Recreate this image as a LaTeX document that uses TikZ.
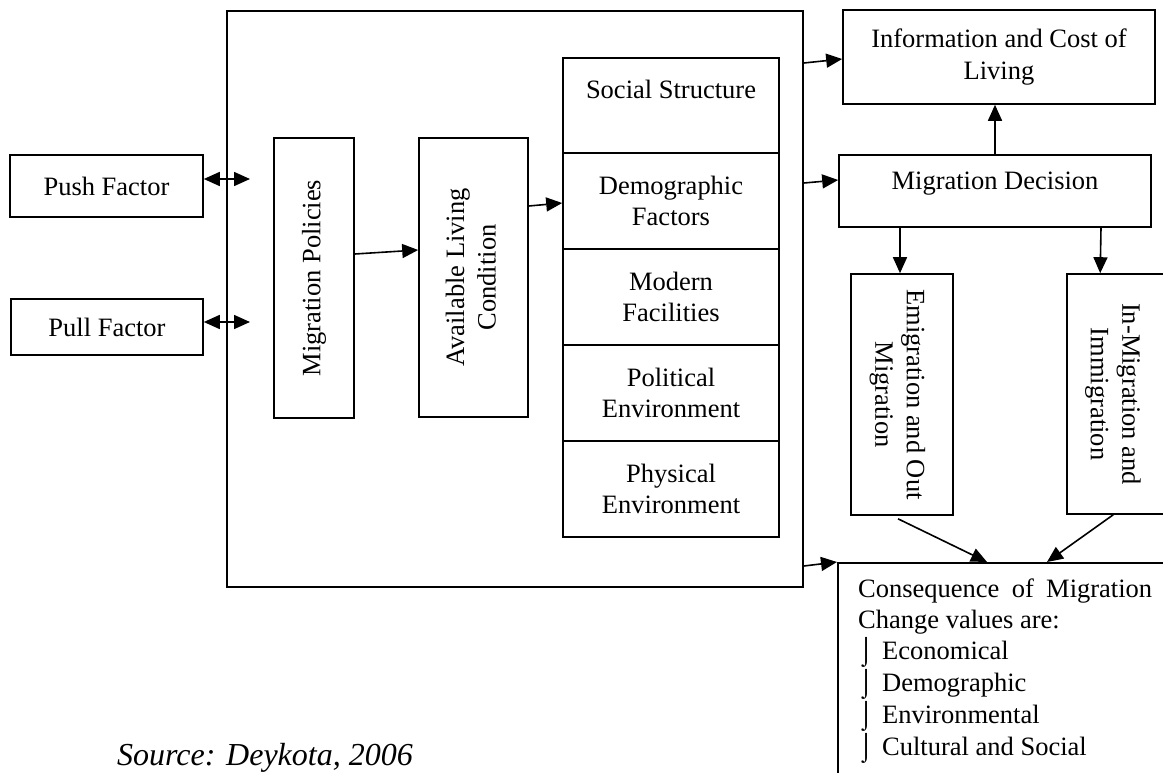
\documentclass[tikz,border=0pt]{standalone}
\usepackage{fontspec}
\usepackage{graphicx}
\setmainfont{Liberation Serif}
\usetikzlibrary{arrows.meta,calc}
\begin{document}
\begin{tikzpicture}[x=1pt,y=-1pt,
  box/.style={draw, line width=1.6pt, rectangle, inner sep=0pt, align=center, font=\fontsize{26.5}{31.5}\selectfont},
  arr/.style={line width=1.6pt, -{Triangle[length=16pt,width=14pt]}},
  darr/.style={line width=1.6pt, {Triangle[length=16pt,width=14pt]}-{Triangle[length=16pt,width=14pt]}},
  txt/.style={inner sep=0pt, anchor=base west, font=\fontsize{26.5}{31.5}\selectfont}]
\useasboundingbox (0,0) rectangle (1163,773);
\clip (0,0) rectangle (1163,773);

% left factors
\node[box, minimum width=193pt, minimum height=62pt] (push) at (106.5,186) {Push Factor};
\node[box, minimum width=192pt, minimum height=56pt] (pull) at (107,327) {Pull Factor};

% big frame
\node[box, minimum width=576pt, minimum height=576pt] (big) at (515,299) {};

\node[box, minimum width=80pt, minimum height=280pt] (pol) at (314,278) {\mbox{\rotatebox{90}{Migration Policies}}};
\node[box, minimum width=109pt, minimum height=279pt] (avail) at (473.5,277.5) {\mbox{\rotatebox{90}{\begin{tabular}{@{}c@{}}Available Living\\Condition\end{tabular}}}};

% column of factors
\node[box, minimum width=216pt, minimum height=95pt] (soc) at (671,105.5) {Social Structure\\ \mbox{}};
\node[box, minimum width=216pt, minimum height=96pt] (dem) at (671,201) {Demographic\\Factors};
\node[box, minimum width=216pt, minimum height=96pt] (mod) at (671,297) {Modern\\Facilities};
\node[box, minimum width=216pt, minimum height=96pt] (polenv) at (671,393) {Political\\Environment};
\node[box, minimum width=216pt, minimum height=96pt] (phys) at (671,489) {Physical\\Environment};

% right side
\node[box, minimum width=312pt, minimum height=94pt] (info) at (999,57) {Information and Cost of\\Living};
\node[box, minimum width=312pt, minimum height=72pt, text depth=20pt] (dec) at (995,191) {Migration Decision};
\node[box, minimum width=102pt, minimum height=241pt] (emi) at (902,394.5) {\mbox{\rotatebox{-90}{\begin{tabular}{@{}c@{}}Emigration and Out\\Migration\end{tabular}}\hspace{9pt}}};
\node[box, minimum width=103pt, minimum height=240pt] (inm) at (1118.5,394) {\mbox{\rotatebox{-90}{\begin{tabular}{@{}c@{}}In-Migration and\\Immigration\end{tabular}}\hspace{11pt}}};

% consequence box
\node[draw, line width=1.6pt, minimum width=400pt, minimum height=300pt, anchor=north west, inner sep=0pt] (cons) at (837,562) {};
\node[txt] (c1) at (858,597) {\makebox[294pt][s]{Consequence of Migration}};
\node[txt] (c2) at (858,628) {Change values are:};
\node[txt] (c3) at (858,659) {\makebox[24pt][l]{⌡}Economical};
\node[txt] (c4) at (858,691) {\makebox[24pt][l]{⌡}Demographic};
\node[txt] (c5) at (858,723) {\makebox[24pt][l]{⌡}Environmental};
\node[txt] (c6) at (858,755) {\makebox[24pt][l]{⌡}Cultural and Social};

% source
\node[inner sep=0pt, anchor=base west, font=\fontsize{32}{38}\selectfont\itshape] (src) at (117,765) {Source: Deykota, 2006};

% connectors
\coordinate (pushend) at (250,179);
\coordinate (pullend) at (250,322);
\draw[darr] ($(push.east)+(0,-7)$) -- (pushend);
\draw[darr] ($(pull.east)+(0,-5)$) -- (pullend);
\draw[arr] ($(pol.east)+(0,-24)$) -- ($(avail.west)+(0,-27.5)$);
\draw[arr] ($(avail.east)+(0,-71.5)$) -- ($(dem.west)+(0,2)$);
\draw[arr] ($(big.east)+(0,-236)$) -- ($(info.west)+(0,2)$);
\draw[arr] ($(big.east)+(0,-116)$) -- ($(dec.west)+(0,-11)$);
\draw[arr] (dec.north) -- ($(info.south)+(-4,0)$);
\draw[arr] ($(dec.south)+(-95,0)$) -- ($(emi.north)+(-2,0)$);
\draw[arr] ($(dec.south)+(106,0)$) -- ($(inm.north west)+(34,0)$);
\draw[arr] ($(emi.south)+(-4,3)$) -- ($(cons.north west)+(150,0)$);
\draw[arr] ($(inm.south west)+(47,0)$) -- ($(cons.north west)+(210,0)$);
\draw[arr] ($(big.east)+(0,267)$) -- (cons.north west);
\end{tikzpicture}
\end{document}
